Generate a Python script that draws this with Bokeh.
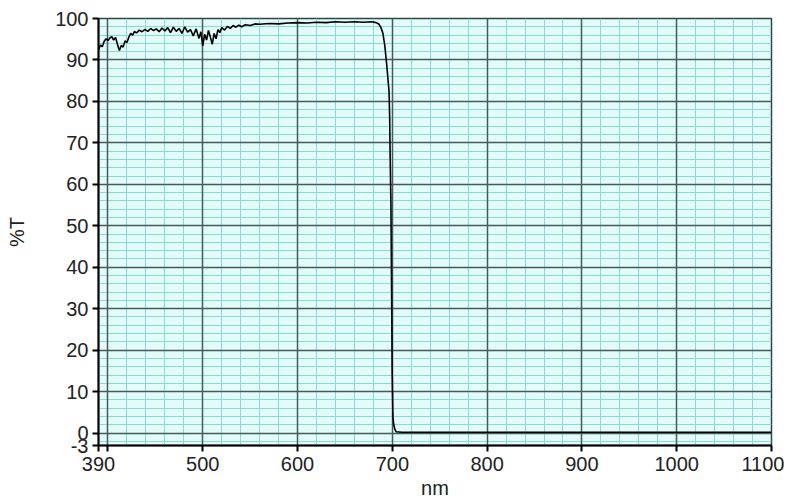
from bokeh.plotting import figure
from bokeh.models import FixedTicker, Grid, Range1d
from bokeh.embed import file_html
from bokeh.resources import INLINE

# ---- data ----
wavelength = [390, 392, 394, 396, 398, 400, 402, 404, 406, 408, 410, 412, 414, 416, 418,
              420, 422, 424, 426, 428, 430, 433, 436, 439, 442, 445, 448, 451, 454, 457,
              460, 463, 466, 469, 472, 475, 478, 481, 484, 487, 490, 493, 496, 498, 500,
              502, 504, 506, 508, 510, 512, 514, 516, 518, 520, 523, 526, 529, 532, 535,
              538, 541, 545, 550, 555, 560, 570, 580, 590, 600, 610, 620, 630, 640, 650,
              660, 670, 678, 683, 686, 688, 690, 692, 694, 695.5, 696.5, 697.2, 697.6,
              698.5, 699.2, 699.8, 700.6, 701.5, 702.5, 704, 710, 800, 900, 1000, 1100]
transmission = [92.4, 93.6, 93.2, 94.5, 95.1, 94.7, 95.3, 95.6, 94.8, 95.4, 93.8, 92.3, 93.5, 93.1, 94.6,
                94.2, 95.5, 96.4, 96.0, 96.9, 96.5, 97.2, 96.8, 97.4, 96.9, 97.6, 97.1, 97.5, 96.8, 97.7,
                97.0, 97.8, 96.6, 97.9, 96.9, 97.6, 96.4, 98.0, 96.7, 97.3, 95.8, 97.5, 95.2, 96.8, 93.4,
                96.2, 94.8, 97.1, 95.5, 93.8, 96.4, 95.1, 97.3, 96.6, 97.8, 97.2, 98.1, 97.6, 98.3, 97.9,
                98.4, 98.0, 98.5, 98.3, 98.7, 98.6, 98.8, 98.7, 98.9, 99.0, 98.9, 99.1, 99.0, 99.2, 99.1,
                99.2, 99.1, 99.2, 99.0, 98.6, 97.8, 96.5, 93.5, 89.0, 85.0, 82.5, 76.0, 68.0,
                55.0, 35.0, 15.0, 4.0, 2.0, 1.0, 0.3, 0.2, 0.2, 0.2, 0.2, 0.2]

x_ticks = [390, 400, 500, 600, 700, 800, 900, 1000, 1100]
x_labels = {400: ""}
y_ticks = [-3, 0, 10, 20, 30, 40, 50, 60, 70, 80, 90, 100]
y_labels = {-3: "-3"}
x_major_grid = [400, 500, 600, 700, 800, 900, 1000]
x_minor_grid = [v for v in range(400, 1100, 20) if v % 100 != 0]
y_major_grid = [0, 10, 20, 30, 40, 50, 60, 70, 80, 90]
y_minor_grid = [v for v in range(-2, 100, 2) if v % 10 != 0]

p = figure(width=784, height=502, x_range=Range1d(390, 1100), y_range=Range1d(-3, 100),
           output_backend="svg", toolbar_location=None,
           min_border_left=98, min_border_right=13, min_border_top=18, min_border_bottom=57)

p.background_fill_color = "#e3fbf9"
p.border_fill_color = "white"
p.outline_line_color = "#2f4444"
p.outline_line_width = 1.5
p.grid.visible = False

minor_col = "#86dcd4"
major_col = "#425c5c"
p.add_layout(Grid(dimension=0, ticker=FixedTicker(ticks=x_minor_grid),
                  grid_line_color=minor_col, grid_line_width=1))
p.add_layout(Grid(dimension=1, ticker=FixedTicker(ticks=y_minor_grid),
                  grid_line_color=minor_col, grid_line_width=1))
p.add_layout(Grid(dimension=0, ticker=FixedTicker(ticks=x_major_grid),
                  grid_line_color=major_col, grid_line_width=1.5))
p.add_layout(Grid(dimension=1, ticker=FixedTicker(ticks=y_major_grid),
                  grid_line_color=major_col, grid_line_width=1.5))

p.line(wavelength, transmission, line_color="black", line_width=1.6)

font = "Liberation Sans"
for ax in (p.xaxis, p.yaxis):
    ax.axis_line_color = "black"
    ax.axis_line_width = 2
    ax.major_tick_line_color = "black"
    ax.major_tick_line_width = 2
    ax.major_tick_out = 6
    ax.major_tick_in = 0
    ax.minor_tick_line_color = None
    ax.major_label_text_font = font
    ax.major_label_text_font_size = "20px"
    ax.major_label_text_color = "#222222"
    ax.axis_label_text_font = font
    ax.axis_label_text_font_size = "20px"
    ax.axis_label_text_font_style = "normal"
    ax.axis_label_text_color = "#222222"

p.xaxis.ticker = FixedTicker(ticks=x_ticks)
p.xaxis.major_label_overrides = x_labels
p.xaxis.axis_label = "nm"
p.xaxis.major_label_standoff = 5
p.xaxis.axis_label_standoff = 3

p.yaxis.ticker = FixedTicker(ticks=y_ticks)
p.yaxis.major_label_overrides = y_labels
p.yaxis.axis_label = "%T"
p.yaxis.major_label_standoff = 4
p.yaxis.axis_label_standoff = 24

open("out.html", "w").write(file_html(p, INLINE))
